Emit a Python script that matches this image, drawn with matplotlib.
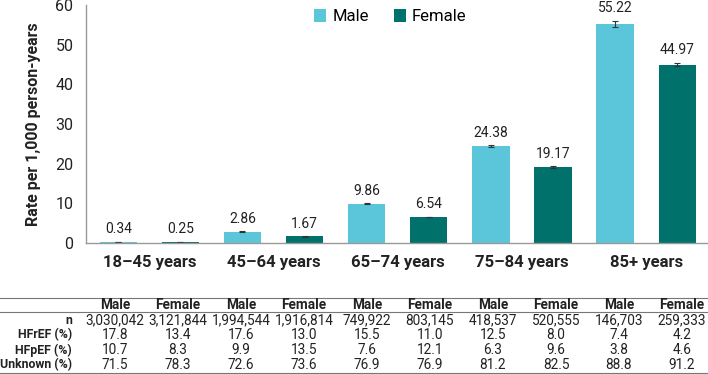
import numpy as np
import matplotlib.pyplot as plt

plt.rcParams['font.family'] = ['Roboto', 'DejaVu Sans']

# Data
groups = ['18\u201345 years', '45\u201364 years', '65\u201374 years', '75\u201384 years', '85+ years']
male = [0.34, 2.86, 9.86, 24.38, 55.22]
female = [0.25, 1.67, 6.54, 19.17, 44.97]
male_err = [0.02, 0.05, 0.10, 0.30, 0.85]
female_err = [0.01, 0.04, 0.08, 0.15, 0.40]

row_labels = ['n', 'HFrEF (%)', 'HFpEF (%)', 'Unknown (%)']
col_headers = ['Male', 'Female'] * 5
n_vals = ['3,030,042', '3,121,844', '1,994,544', '1,916,814', '749,922',
          '803,145', '418,537', '520,555', '146,703', '259,333']
hfref = ['17.8', '13.4', '17.6', '13.0', '15.5', '11.0', '12.5', '8.0', '7.4', '4.2']
hfpef = ['10.7', '8.3', '9.9', '13.5', '7.6', '12.1', '6.3', '9.6', '3.8', '4.6']
unknown = ['71.5', '78.3', '72.6', '73.6', '76.9', '76.9', '81.2', '82.5', '88.8', '91.2']

c_male = '#5BC6D9'
c_female = '#00716B'
txt = '#222222'

fig = plt.figure(figsize=(7.08, 3.74), dpi=100)
ax = fig.add_axes([86 / 708, 1 - 243 / 374, 621 / 708, 238 / 374])

x = np.arange(len(groups))
w = 0.3
ax.bar(x - 0.25, male, w, color=c_male, label='Male',
       yerr=male_err, capsize=2.5, error_kw=dict(elinewidth=0.8, capthick=0.8, ecolor='#333333'))
ax.bar(x + 0.25, female, w, color=c_female, label='Female',
       yerr=female_err, capsize=2.5, error_kw=dict(elinewidth=0.8, capthick=0.8, ecolor='#333333'))

for xi, v, e in zip(x - 0.25, male, male_err):
    ax.annotate(f'{v:.2f}', (xi, v + e), xytext=(0, 4), textcoords='offset points',
                ha='center', va='bottom', fontsize=10, color=txt)
for xi, v, e in zip(x + 0.25, female, female_err):
    ax.annotate(f'{v:.2f}', (xi, v + e), xytext=(0, 4), textcoords='offset points',
                ha='center', va='bottom', fontsize=10, color=txt)

ax.set_xlim(-0.51, 4.49)
ax.set_ylim(0, 60)
ax.set_yticks(range(0, 61, 10))
ax.set_xticks(x)
ax.set_xticklabels(groups, fontsize=12, fontweight='bold', color=txt)
ax.tick_params(axis='both', length=0)
ax.tick_params(axis='x', pad=9)
ax.tick_params(axis='y', labelsize=11.5, labelcolor=txt, pad=9)
ax.set_ylabel('Rate per 1,000 person-years', fontsize=11.5, fontweight='bold', color=txt, labelpad=10)
for s in ['top', 'right']:
    ax.spines[s].set_visible(False)
for s in ['left', 'bottom']:
    ax.spines[s].set_color('#999999')
    ax.spines[s].set_linewidth(1)

ax.legend(loc='upper center', bbox_to_anchor=(0.49, 1.045), ncol=2, frameon=False,
          fontsize=12, handlelength=0.75, handleheight=0.75, handletextpad=0.35, columnspacing=1.5)

# Table below
col_x = [(115 + 63 * i) / 708 for i in range(10)]
row_y = [1 - yy / 374 for yy in (320, 335, 350, 365)]
head_y = 1 - 305 / 374
lab_x = 72 / 708

for cx, h in zip(col_x, col_headers):
    fig.text(cx, head_y, h, ha='center', va='center', fontsize=9.8, fontweight='bold', color=txt)
rows = [n_vals, hfref, hfpef, unknown]
for ry, lab, vals in zip(row_y, row_labels, rows):
    fig.text(lab_x, ry, lab, ha='right', va='center', fontsize=8.8, fontweight='bold', color=txt)
    for cx, v in zip(col_x, vals):
        fig.text(cx, ry, v, ha='center', va='center', fontsize=9.8, color=txt)

for yy in (298, 312, 372.5):
    fig.add_artist(plt.Line2D([0, 1], [1 - yy / 374] * 2, color='#777777', lw=0.8))

fig.savefig('out.png', dpi=100)
